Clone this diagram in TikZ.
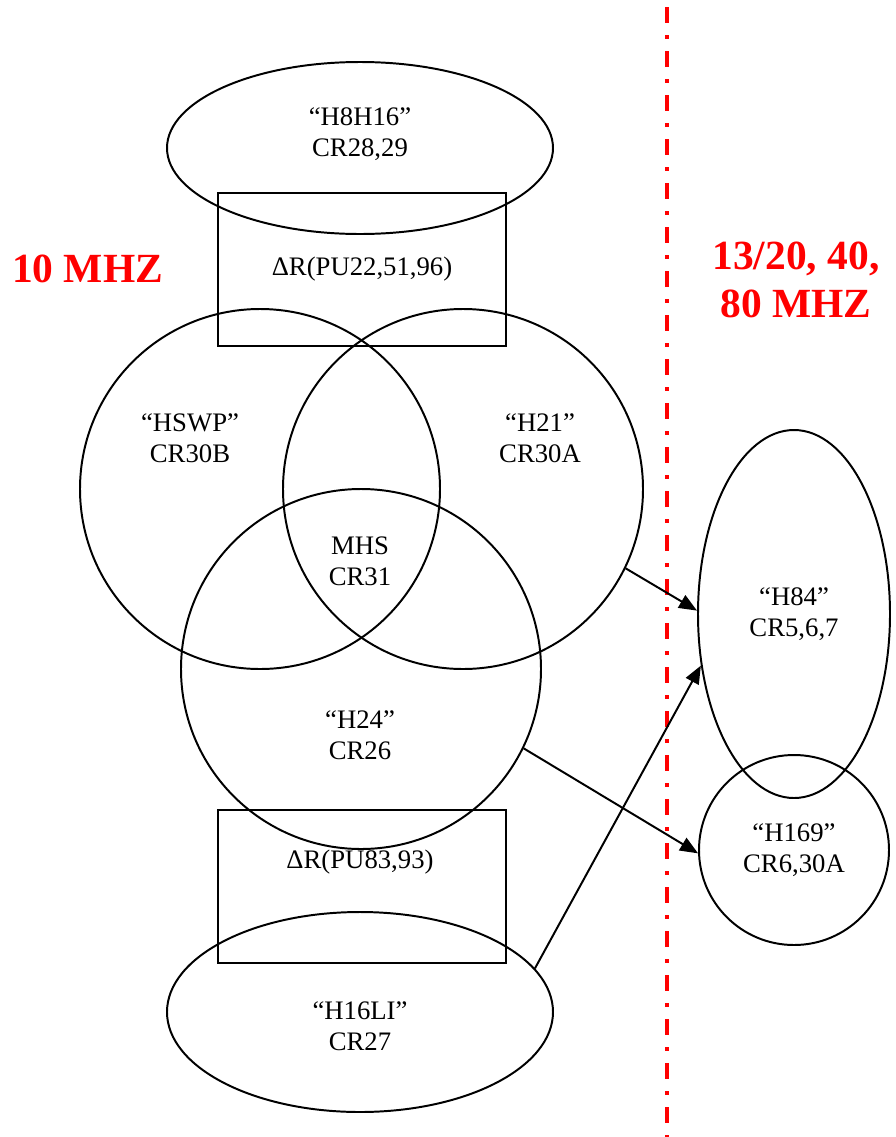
\documentclass[tikz,border=0pt]{standalone}
\usepackage{fontspec}
\setmainfont{Liberation Serif}
\usepackage{tikz}
\usetikzlibrary{shapes.geometric,arrows.meta}
\definecolor{bandred}{RGB}{255,0,0}

\begin{document}
\begin{tikzpicture}[
  blob/.style={draw, ellipse, line width=1.4pt, inner sep=0pt},
  ring/.style={draw, circle, line width=1.4pt, inner sep=0pt, minimum size=9cm},
  box/.style={draw, line width=1.4pt, minimum width=7.2cm, minimum height=3.825cm},
  lbl/.style={align=center},
  band/.style={align=center, text=bandred, font=\fontsize{29.5}{34}\selectfont\bfseries},
  divider/.style={draw=bandred, line width=2.8pt, dash pattern=on 0.4cm off 0.3cm on 0.1cm off 0.3cm},
  link/.style={line width=1.4pt, -{Triangle[length=0.45cm, width=0.36cm]}},
  every node/.style={font=\fontsize{19}{22}\selectfont}
]
\useasboundingbox (0,0) rectangle (22.4,-28.425);

\node[blob, minimum width=9.65cm, minimum height=4.3cm] (h8h16) at (9.0,-3.7) {};
\node[lbl] (h8h16txt) at (9.0,-3.35) {“H8H16”\\CR28,29};
\node[box, lbl] (pu22) at (9.05,-6.7375) {ΔR(PU22,51,96)};

\node[ring] (hswp) at (6.5,-12.225) {};
\node[lbl] (hswptxt) at (4.75,-10.95) {“HSWP”\\CR30B};
\node[ring] (h21) at (11.575,-12.225) {};
\node[lbl] (h21txt) at (13.5,-10.95) {“H21”\\CR30A};
\node[lbl] (mhs) at (9.0,-14.03) {MHS\\CR31};
\node[ring] (h24) at (9.025,-16.725) {};
\node[lbl] (h24txt) at (9.0,-18.375) {“H24”\\CR26};

\node[box] (pu83) at (9.05,-22.1625) {};
\node[lbl] (pu83txt) at (9.0,-21.55) {ΔR(PU83,93)};
\node[blob, minimum width=9.65cm, minimum height=5cm] (h16li) at (9.0,-25.3) {};
\node[lbl] (h16litxt) at (9.0,-25.65) {“H16LI”\\CR27};

\node[blob, lbl, minimum width=4.8cm, minimum height=9.2cm] (h84) at (19.85,-15.35) {“H84”\\CR5,6,7};
\node[ring, lbl, minimum size=4.75cm] (h169) at (19.85,-21.25) {“H169”\\CR6,30A};

\coordinate (linetop) at (16.675,-0.175);
\coordinate (linebot) at (16.675,-28.425);
\draw[divider] (linetop) -- (linebot);

\node[band] (lowband) at (2.19,-6.725) {10 MHZ};
\node[band] (highband) at (19.9,-7.0) {13/20, 40,\\80 MHZ};

\draw[link] (h21.-26.4) -- (h84.178.2);
\draw[link] (h24.-26) -- (h169.182);
\draw[link] (h16li.14.9) -- (h84.209.9);

\end{tikzpicture}
\end{document}
